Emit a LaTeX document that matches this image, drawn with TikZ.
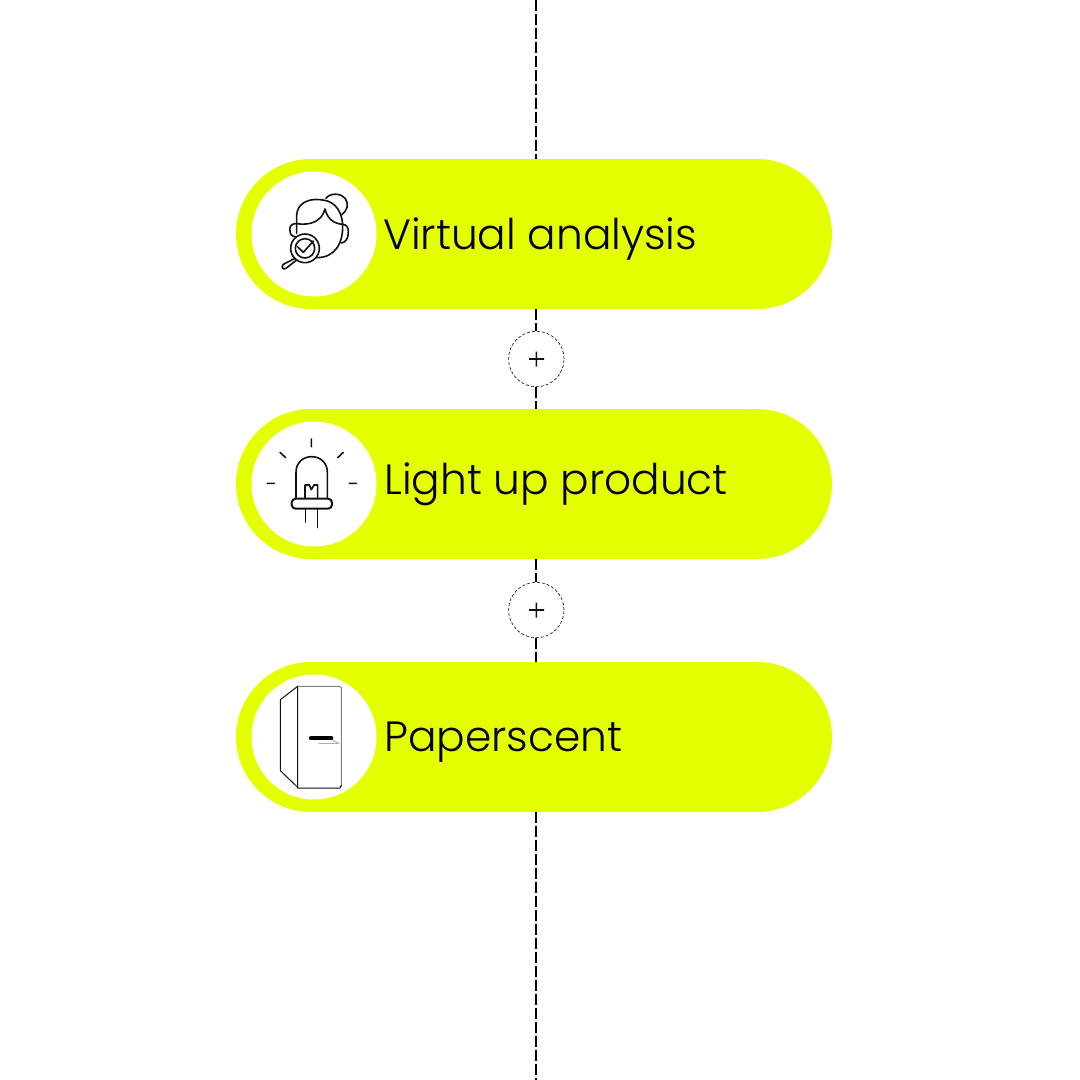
\documentclass[tikz,border=0pt]{standalone}
\usepackage{fontspec}
\setmainfont{Poppins Light}
\definecolor{lime}{HTML}{E4FF00}
\definecolor{ink}{HTML}{111111}
\tikzset{
 pill/.style={fill=lime,draw=none,rounded corners=75pt,minimum width=596pt,minimum height=150pt,inner sep=0pt},
 disc/.style={circle,fill=white,draw=none,minimum size=125pt,inner sep=0pt},
 plusnode/.style={circle,fill=white,draw=black,line width=0.6pt,densely dashed,minimum size=55.5pt,inner sep=0pt},
 label/.style={anchor=base west,inner sep=0pt,font=\fontsize{42.3}{42}\selectfont,text=black},
 link/.style={draw=black,line width=2pt,dash pattern=on 11pt off 3pt},
 ic/.style={draw=ink,line width=1.6pt,line cap=round,line join=round,fill=none},
 zoomed/.style={x=0.33333pt,y=-0.33333pt}
}
\begin{document}
\begin{tikzpicture}[x=1pt,y=-1pt]
\useasboundingbox[fill=white] (0,0) rectangle (1080,1080);
\coordinate (top) at (536.3,0);
\coordinate (bottom) at (536.3,1080);
\node[pill] (p1) at (534,234) {};
\node[pill] (p2) at (534,484) {};
\node[pill] (p3) at (534,737) {};
\node[disc] (d1) at (314,234) {};
\node[disc] (d2) at (314,484) {};
\node[disc] (d3) at (314,737) {};
\node[plusnode] (c1) at (536.3,359) {};
\node[plusnode] (c2) at (536.3,610) {};
\fill[ink] (529,358.2) rectangle (544,359.9) (535.5,351.7) rectangle (537.2,366.5);
\fill[ink] (529,609.2) rectangle (544,610.9) (535.5,602.7) rectangle (537.2,617.5);
\coordinate (a1) at (536.3,159); \coordinate (a2) at (536.3,309); \coordinate (a3) at (536.3,409);
\coordinate (a4) at (536.3,559); \coordinate (a5) at (536.3,662); \coordinate (a6) at (536.3,812);
\draw[link] (top) -- (a1);
\draw[link] (a2) -- (c1);
\draw[link] (c1) -- (a3);
\draw[link] (a4) -- (c2);
\draw[link] (c2) -- (a5);
\draw[link] (a6) -- (bottom);
\node[label] (t1) at (383,249.5) {Virtual analysis};
\node[label] (t2) at (384,494) {Light up product};
\node[label] (t3) at (384,751) {Paperscent};
% icon 1
\begin{scope}[xshift=240pt,yshift=-165pt,zoomed]
\draw[ic] (258,100) .. controls (268,85) and (300,82) .. (315,100) .. controls (328,118) and (322,138) .. (304,150);
\draw[ic] (170,205) -- (170,150) .. controls (172,115) and (205,100) .. (240,104) .. controls (275,106) and (303,125) .. (308,178);
\draw[ic] (170,176) .. controls (210,182) and (245,170) .. (255,132) .. controls (262,160) and (280,176) .. (308,178);
\draw[ic] (308,178) .. controls (310,235) and (285,278) .. (230,278);
\draw[ic] (166,176) .. controls (150,176) and (148,190) .. (150,198) .. controls (150,208) and (156,214) .. (166,215);
\draw[ic] (308,178) .. controls (320,178) and (326,190) .. (325,200) .. controls (325,220) and (318,232) .. (304,234);
\draw[ic,fill=white] (195,250) circle (43);
\draw[ic] (195,250) circle (29);
\draw[ic] (172,245) -- (190,262) -- (220,228);
\draw[ic] (165,280) -- (130,298) .. controls (122,306) and (130,316) .. (138,310) -- (170,285);
\end{scope}
% icon 2
\begin{scope}[xshift=240pt,yshift=-415pt,zoomed]
\draw[ic] (214,72) -- (214,95) (120,112) -- (137,128) (310,112) -- (293,128) (82,205) -- (103,205) (328,205) -- (349,205);
\draw[ic] (168,250) -- (168,172) .. controls (168,142) and (190,125) .. (215,125) .. controls (240,125) and (262,142) .. (262,172) -- (262,250);
\draw[ic,rounded corners=4pt,line width=2pt] (155,251) rectangle (276,281);
\draw[ic] (197,282) -- (197,322) (232,282) -- (232,338);
\draw[ic] (195,250) -- (195,210) -- (208,210) -- (214,224) -- (222,210) -- (233,210) -- (233,250);
\end{scope}
% icon 3
\begin{scope}[xshift=240pt,yshift=-668pt,zoomed]
\draw[ic,line width=1pt] (173,55) -- (121,95) -- (121,308) -- (173,358);
\draw[gray,line width=1pt,line cap=round,line join=round] (173,55) -- (299,55) -- (304,60) -- (304,355);
\draw[ic,line width=1pt] (304,352) -- (300,360) -- (173,360) -- (173,55);
\draw[line width=4.2pt,line cap=round,draw=black] (213,211) -- (274,211);
\draw[draw=gray,line width=0.5pt] (235,226) -- (296,226) -- (278,217);
\end{scope}
\end{tikzpicture}
\end{document}
